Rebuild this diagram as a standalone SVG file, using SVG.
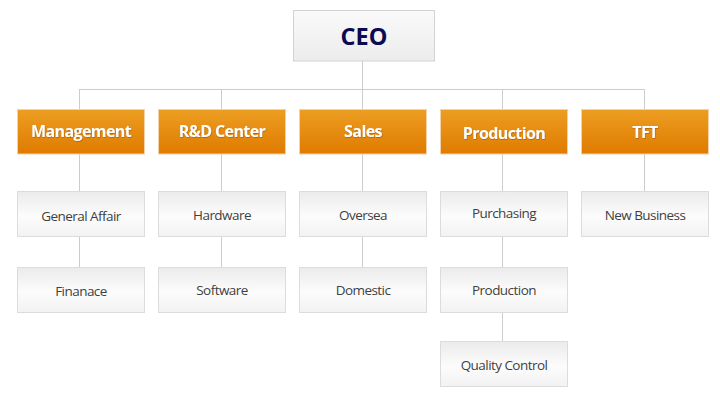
<svg xmlns="http://www.w3.org/2000/svg" width="720" height="419" viewBox="0 0 720 419">
<defs>
<linearGradient id="gOrange" x1="0" y1="0" x2="0" y2="1">
<stop offset="0" stop-color="#ec9e22"/>
<stop offset="1" stop-color="#df7b00"/>
</linearGradient>
<linearGradient id="gCeo" x1="0" y1="0" x2="0" y2="1">
<stop offset="0" stop-color="#fafafa"/>
<stop offset="1" stop-color="#ececec"/>
</linearGradient>
<linearGradient id="gSub" x1="0" y1="0" x2="0" y2="1">
<stop offset="0" stop-color="#ebebeb"/>
<stop offset="0.55" stop-color="#fcfcfc"/>
<stop offset="1" stop-color="#f2f2f2"/>
</linearGradient>
<filter id="sh" x="-10%" y="-30%" width="120%" height="160%">
<feDropShadow dx="0.5" dy="0.8" stdDeviation="0.4" flood-color="#8a4a00" flood-opacity="0.6"/>
</filter>
</defs>
<style>
.ceo{fill:url(#gCeo);stroke:#d2d2d2;stroke-width:1}
.hd{fill:url(#gOrange);stroke:#f3d2a8;stroke-width:1}
.sb{fill:url(#gSub);stroke:#dcdcdc;stroke-width:1}
.ct{font-family:"Open Sans","Noto Sans",sans-serif;font-weight:bold;font-size:23.5px;fill:#0c0a52;text-anchor:middle}
.ht{font-family:"Open Sans","Noto Sans",sans-serif;font-weight:bold;font-size:16px;fill:#ffffff;text-anchor:middle;letter-spacing:-0.6px}
.st{font-family:"Open Sans","Noto Sans",sans-serif;font-size:13.5px;fill:#3f3f3f;text-anchor:middle;letter-spacing:-0.55px}
.cn line{stroke:#cccccc;stroke-width:1}
</style>
<rect width="720" height="419" fill="#ffffff"/>
<g class="cn" id="connectors">
<line x1="362.5" y1="61" x2="362.5" y2="89.5"/>
<line x1="79" y1="89.5" x2="644.5" y2="89.5"/>
<line x1="79.5" y1="89.5" x2="79.5" y2="110"/>
<line x1="221.5" y1="89.5" x2="221.5" y2="110"/>
<line x1="362.5" y1="89.5" x2="362.5" y2="110"/>
<line x1="502.5" y1="89.5" x2="502.5" y2="110"/>
<line x1="644.5" y1="89.5" x2="644.5" y2="110"/>
<line x1="79.5" y1="154" x2="79.5" y2="191"/>
<line x1="221.5" y1="154" x2="221.5" y2="191"/>
<line x1="362.5" y1="154" x2="362.5" y2="191"/>
<line x1="502.5" y1="154" x2="502.5" y2="191"/>
<line x1="644.5" y1="154" x2="644.5" y2="191"/>
<line x1="79.5" y1="236" x2="79.5" y2="267"/>
<line x1="221.5" y1="236" x2="221.5" y2="267"/>
<line x1="362.5" y1="236" x2="362.5" y2="267"/>
<line x1="502.5" y1="236" x2="502.5" y2="267"/>
<line x1="502.5" y1="312" x2="502.5" y2="341"/>
</g>
<g id="ceo"><rect class="ceo" x="293.5" y="10.5" width="141" height="50.5"/><text class="ct" x="364" y="45">CEO</text></g>
<g id="management"><rect class="hd" x="17.5" y="109.5" width="127" height="44.5"/><text class="ht" x="81" y="136.5" filter="url(#sh)">Management</text></g>
<g id="rnd"><rect class="hd" x="158.5" y="109.5" width="127" height="44.5"/><text class="ht" x="222" y="137" filter="url(#sh)">R&amp;D Center</text></g>
<g id="sales"><rect class="hd" x="299.5" y="109.5" width="127" height="44.5"/><text class="ht" x="363" y="137" filter="url(#sh)">Sales</text></g>
<g id="production"><rect class="hd" x="440.5" y="109.5" width="127" height="44.5"/><text class="ht" x="504" y="138.5" filter="url(#sh)">Production</text></g>
<g id="tft"><rect class="hd" x="581.5" y="109.5" width="127" height="44.5"/><text class="ht" x="645" y="138" filter="url(#sh)">TFT</text></g>
<g id="general-affair"><rect class="sb" x="17.5" y="191.5" width="127" height="45"/><text class="st" x="81" y="220.5">General Affair</text></g>
<g id="finanace"><rect class="sb" x="17.5" y="267.5" width="127" height="45"/><text class="st" x="81" y="296">Finanace</text></g>
<g id="hardware"><rect class="sb" x="158.5" y="191.5" width="127" height="45"/><text class="st" x="222" y="219.5">Hardware</text></g>
<g id="software"><rect class="sb" x="158.5" y="267.5" width="127" height="45"/><text class="st" x="222" y="295">Software</text></g>
<g id="oversea"><rect class="sb" x="299.5" y="191.5" width="127" height="45"/><text class="st" x="363" y="219.5">Oversea</text></g>
<g id="domestic"><rect class="sb" x="299.5" y="267.5" width="127" height="45"/><text class="st" x="363" y="295">Domestic</text></g>
<g id="purchasing"><rect class="sb" x="440.5" y="191.5" width="127" height="45"/><text class="st" x="504" y="218">Purchasing</text></g>
<g id="production-sub"><rect class="sb" x="440.5" y="267.5" width="127" height="45"/><text class="st" x="504" y="295">Production</text></g>
<g id="quality-control"><rect class="sb" x="440.5" y="341.5" width="127" height="45"/><text class="st" x="504" y="370">Quality Control</text></g>
<g id="new-business"><rect class="sb" x="581.5" y="191.5" width="127" height="45"/><text class="st" x="645" y="220">New Business</text></g>
</svg>
